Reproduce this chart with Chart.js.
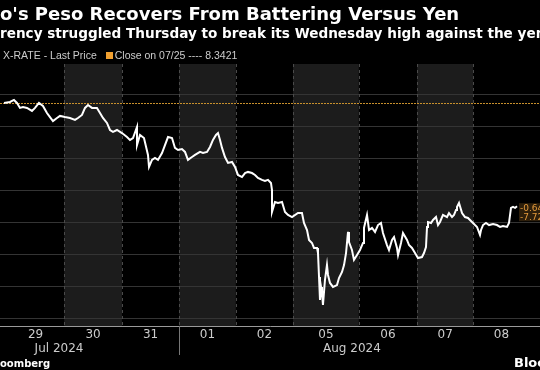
<!DOCTYPE html>
<html>
<head>
<meta charset="utf-8">
<script src="https://cdn.jsdelivr.net/npm/chart.js@4.4.1/dist/chart.umd.min.js"></script>
<style>
  html, body { margin: 0; padding: 0; background: #000; }
  #wrap { position: relative; width: 540px; height: 370px; overflow: hidden; background: #000; }
  #chart { position: absolute; left: 0; top: 0; }
  .txt { position: absolute; white-space: nowrap; color: #fff; }
  #title { left: 0; top: 3px; font: bold 18px "DejaVu Sans", sans-serif; }
  #subtitle { left: 0; top: 25px; font: bold 13.6px "DejaVu Sans", sans-serif; }
  #legend { left: 3px; top: 49px; font: 10.5px "Liberation Sans", sans-serif; color: #ccc; }
  #legend .sq { display: inline-block; width: 7px; height: 7px; background: #f0a030; margin: 0 2px 0 9px; }
  #srcL { left: 0; top: 358px; font: bold 10px "DejaVu Sans", sans-serif; }
  #srcR { left: 514px; top: 355px; font: bold 13px "DejaVu Sans", sans-serif; }
</style>
</head>
<body>
<div id="wrap">
  <canvas id="chart" width="540" height="370"></canvas>
  <div class="txt" id="title">o's Peso Recovers From Battering Versus Yen</div>
  <div class="txt" id="subtitle">rency struggled Thursday to break its Wednesday high against the yen</div>
  <div class="txt" id="legend">X-RATE - Last Price<span class="sq"></span>Close on 07/25 ---- 8.3421</div>
  <div class="txt" id="srcL">oomberg</div>
  <div class="txt" id="srcR">Bloo</div>
</div>
<script>
// --- DATA (x = trading-day position, day 0 = Jul 29) ---
const dayLabels = ['29', '30', '31', '01', '02', '05', '06', '07', '08'];
const dayBounds = [0, 1, 2.01, 3.01, 4.0, 5.0, 6.15, 7.17, 8.15, 9.14];
const shadedDays = [1, 3, 5, 7];
const monthLabels = ['Jul 2024', 'Aug 2024'];
const monthPos = [0.91, 6.03];
const monthSplit = 3.01;
const gridValues = [7.0, 7.2, 7.4, 7.6, 7.8, 8.0, 8.2, 8.4];
const prevClose = 8.3421;
const lastChange = '-0.643';
const lastPct = '-7.72%';

const times = [
  -0.052, 0.052, 0.122, 0.175, 0.227, 0.280, 0.350, 0.437, 0.490, 0.559,
  0.629, 0.699, 0.752, 0.804, 0.874, 0.927, 1.014, 1.101, 1.189, 1.241,
  1.311, 1.364, 1.416, 1.486, 1.573, 1.626, 1.678, 1.748, 1.801, 1.853,
  1.923, 2.010, 2.098, 2.150, 2.203, 2.273, 2.273, 2.325, 2.395, 2.465,
  2.483, 2.535, 2.587, 2.640, 2.710, 2.762, 2.815, 2.885, 2.937, 2.990,
  3.059, 3.112, 3.164, 3.234, 3.287, 3.374, 3.427, 3.497, 3.549, 3.601,
  3.654, 3.689, 3.724, 3.759, 3.811, 3.864, 3.934, 3.986, 4.038, 4.108,
  4.161, 4.213, 4.283, 4.336, 4.388, 4.458, 4.510, 4.563, 4.615, 4.633,
  4.633, 4.685, 4.738, 4.808, 4.860, 4.913, 4.983, 5.087, 5.157, 5.192,
  5.245, 5.280, 5.332, 5.367, 5.420, 5.437, 5.455, 5.472, 5.490, 5.507,
  5.524, 5.559, 5.594, 5.612, 5.647, 5.699, 5.769, 5.804, 5.857, 5.892,
  5.927, 5.962, 5.979, 6.031, 6.066, 6.119, 6.171, 6.224, 6.241, 6.294,
  6.329, 6.381, 6.434, 6.486, 6.538, 6.573, 6.643, 6.678, 6.731, 6.766,
  6.818, 6.836, 6.888, 6.923, 6.993, 7.028, 7.080, 7.133, 7.185, 7.255,
  7.290, 7.325, 7.343, 7.360, 7.413, 7.448, 7.500, 7.535, 7.570, 7.622,
  7.692, 7.727, 7.780, 7.815, 7.850, 7.867, 7.902, 7.955, 8.007, 8.059,
  8.129, 8.182, 8.217, 8.269, 8.287, 8.322, 8.374, 8.427, 8.497, 8.566,
  8.619, 8.671, 8.741, 8.776, 8.811, 8.846, 8.881, 8.916
];
const rates = [
  8.344, 8.350, 8.363, 8.344, 8.313, 8.319, 8.313, 8.294, 8.313, 8.344,
  8.325, 8.281, 8.256, 8.231, 8.250, 8.263, 8.256, 8.250, 8.238, 8.250,
  8.269, 8.313, 8.331, 8.313, 8.313, 8.281, 8.250, 8.219, 8.175, 8.163,
  8.175, 8.156, 8.131, 8.113, 8.125, 8.194, 8.081, 8.144, 8.125, 8.019,
  7.944, 7.988, 8.000, 7.988, 8.031, 8.081, 8.131, 8.125, 8.063, 8.050,
  8.056, 8.038, 7.988, 8.006, 8.019, 8.038, 8.031, 8.038, 8.069, 8.113,
  8.144, 8.156, 8.113, 8.063, 8.006, 7.969, 7.975, 7.944, 7.894, 7.881,
  7.906, 7.913, 7.906, 7.894, 7.875, 7.863, 7.856, 7.863, 7.844, 7.800,
  7.663, 7.725, 7.719, 7.725, 7.663, 7.644, 7.631, 7.656, 7.656, 7.594,
  7.550, 7.488, 7.469, 7.438, 7.438, 7.406, 7.256, 7.113, 7.194, 7.156,
  7.081, 7.238, 7.331, 7.269, 7.219, 7.194, 7.206, 7.250, 7.288, 7.331,
  7.406, 7.538, 7.475, 7.425, 7.363, 7.394, 7.425, 7.469, 7.563, 7.644,
  7.550, 7.563, 7.538, 7.581, 7.594, 7.531, 7.456, 7.425, 7.488, 7.506,
  7.438, 7.394, 7.469, 7.531, 7.488, 7.456, 7.438, 7.406, 7.375, 7.381,
  7.406, 7.444, 7.569, 7.600, 7.594, 7.613, 7.631, 7.581, 7.600, 7.644,
  7.631, 7.656, 7.631, 7.644, 7.675, 7.694, 7.719, 7.656, 7.631, 7.625,
  7.600, 7.581, 7.569, 7.519, 7.550, 7.581, 7.594, 7.581, 7.588, 7.581,
  7.569, 7.575, 7.569, 7.594, 7.688, 7.694, 7.688, 7.699
];

const dayMid = dayLabels.map((d, i) => (dayBounds[i] + dayBounds[i + 1]) / 2);

// --- DECORATIONS: session bands, dashed day lines, prev close line, labels ---
const decor = {
  id: 'decor',
  beforeDraw(chart) {
    const { ctx, chartArea: a, scales: { x } } = chart;
    ctx.save();
    ctx.fillStyle = '#000';
    ctx.fillRect(0, 0, chart.width, chart.height);
    ctx.fillStyle = '#1c1c1c';
    shadedDays.forEach(i => {
      const x0 = x.getPixelForValue(dayBounds[i]);
      const x1 = x.getPixelForValue(dayBounds[i + 1]);
      ctx.fillRect(x0, a.top, x1 - x0, a.bottom - a.top);
    });
    ctx.restore();
  },
  beforeDatasetsDraw(chart) {
    const { ctx, chartArea: a, scales: { x, y } } = chart;
    ctx.save();
    ctx.strokeStyle = '#4a4a4a';
    ctx.lineWidth = 1;
    ctx.setLineDash([3, 3]);
    shadedDays.forEach(i => {
      [dayBounds[i], dayBounds[i + 1]].forEach(v => {
        const px = Math.round(x.getPixelForValue(v)) + 0.5;
        ctx.beginPath();
        ctx.moveTo(px, a.top);
        ctx.lineTo(px, a.bottom);
        ctx.stroke();
      });
    });
    // previous close
    ctx.strokeStyle = '#c8902c';
    ctx.setLineDash([2, 1]);
    const py = Math.round(y.getPixelForValue(prevClose)) + 0.5;
    ctx.beginPath();
    ctx.moveTo(a.left, py);
    ctx.lineTo(a.right, py);
    ctx.stroke();
    ctx.restore();
  },
  afterDraw(chart) {
    const { ctx, chartArea: a, scales: { x, y } } = chart;
    ctx.save();
    // month separator
    const sx = Math.round(x.getPixelForValue(monthSplit)) + 0.5;
    ctx.strokeStyle = '#777';
    ctx.beginPath();
    ctx.moveTo(sx, a.bottom);
    ctx.lineTo(sx, a.bottom + 29);
    ctx.stroke();
    // month labels
    ctx.fillStyle = '#cccccc';
    ctx.font = '12px "DejaVu Sans", sans-serif';
    ctx.textAlign = 'center';
    ctx.textBaseline = 'middle';
    monthLabels.forEach((m, i) => ctx.fillText(m, x.getPixelForValue(monthPos[i]), a.bottom + 23));
    // last value labels
    const lx = x.getPixelForValue(times[times.length - 1]) + 2;
    const ly = y.getPixelForValue(rates[rates.length - 1]);
    ctx.fillStyle = '#2e1f0b';
    ctx.fillRect(lx, ly - 3, 40, 18);
    ctx.fillStyle = '#e39a3c';
    ctx.font = '9px "DejaVu Sans", sans-serif';
    ctx.textAlign = 'left';
    ctx.fillText(lastChange, lx + 1, ly + 2);
    ctx.fillText(lastPct, lx + 1, ly + 11);
    ctx.restore();
  }
};

new Chart(document.getElementById('chart').getContext('2d'), {
  type: 'line',
  data: {
    datasets: [{
      label: 'X-RATE - Last Price',
      data: times.map((t, i) => ({ x: t, y: rates[i] })),
      borderColor: '#ffffff',
      borderWidth: 2,
      pointRadius: 0,
      tension: 0
    }]
  },
  options: {
    responsive: false,
    animation: false,
    layout: { padding: { top: 64, left: 0, right: 0, bottom: 0 } },
    plugins: { legend: { display: false }, tooltip: { enabled: false } },
    scales: {
      x: {
        type: 'linear',
        min: -0.122,
        max: 9.318,
        grid: { display: false, drawTicks: false },
        border: { color: '#9a9a9a' },
        ticks: {
          color: '#cccccc',
          font: { size: 12, family: '"DejaVu Sans", sans-serif' },
          autoSkip: false,
          maxRotation: 0,
          padding: 2,
          callback: (v, i) => dayLabels[i]
        },
        afterBuildTicks: s => { s.ticks = dayMid.map(v => ({ value: v })); },
        afterFit: s => { s.height = 44; }
      },
      y: {
        position: 'right',
        min: 6.95,
        max: 8.5875,
        grid: { color: '#343434', drawTicks: false },
        border: { display: false },
        ticks: { display: false },
        afterBuildTicks: s => { s.ticks = gridValues.map(v => ({ value: v })); },
        afterFit: s => { s.width = 0; }
      }
    }
  },
  plugins: [decor]
});
</script>
</body>
</html>
